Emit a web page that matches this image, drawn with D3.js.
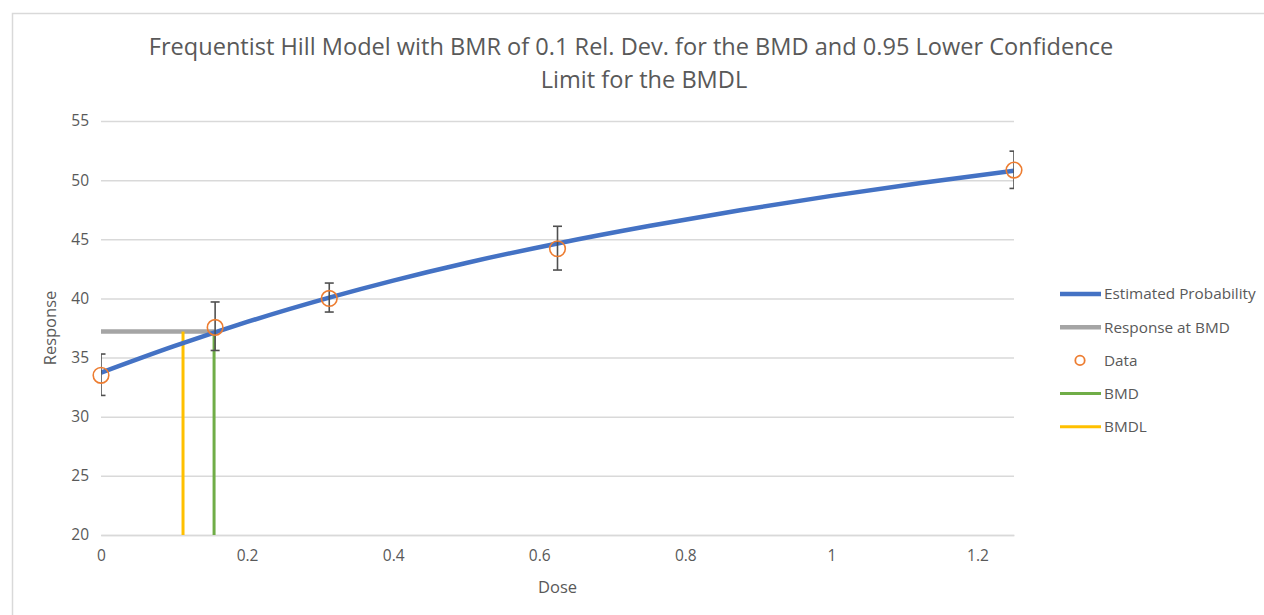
<!DOCTYPE html>
<html>
<head>
<meta charset="utf-8">
<script src="https://cdn.jsdelivr.net/npm/d3@7"></script>
<style>
  html, body { margin: 0; padding: 0; background: #fff; }
  svg { display: block; font-family: "Open Sans", "Noto Sans", sans-serif; }
</style>
</head>
<body>
<svg id="chart" width="1264" height="615"></svg>
<script>
// Observed dose groups: mean response and error-bar limits
const doses = [0, 0.15625, 0.3125, 0.625, 1.25];
const means = [33.5, 37.55, 40.0, 44.2, 50.85];
const errLow = [31.8, 35.6, 38.85, 42.4, 49.3];
const errHigh = [35.3, 39.7, 41.3, 46.1, 52.45];

// Fitted Hill curve, sampled along the dose range
const curveDose = [0, 0.1, 0.156, 0.2, 0.3125, 0.4, 0.5, 0.625, 0.75, 0.875, 1.0, 1.125, 1.25];
const curveResp = [33.72, 35.96, 37.13, 38.01, 40.07, 41.51, 43.0, 44.65, 46.12, 47.46, 48.67, 49.78, 50.8];

// Benchmark dose results
const bmd = 0.1548;
const bmdl = 0.1123;
const bmdResponse = 37.2;

const xTicks = [0, 0.2, 0.4, 0.6, 0.8, 1, 1.2];
const yTicks = [20, 25, 30, 35, 40, 45, 50, 55];

const titleLines = [
  "Frequentist Hill Model with BMR of 0.1 Rel. Dev. for the BMD and 0.95 Lower Confidence",
  "Limit for the BMDL"
];
const legendLabels = ["Estimated Probability", "Response at BMD", "Data", "BMD", "BMDL"];

const colors = {
  curve: "#4472C4",
  bmdLine: "#A5A5A5",
  data: "#ED7D31",
  bmd: "#70AD47",
  bmdl: "#FFC000",
  grid: "#D9D9D9",
  text: "#595959",
  err: "#505050"
};

const svg = d3.select("#chart");
const plot = { left: 101, right: 1014, top: 121, bottom: 535 };

const x = d3.scaleLinear().domain([0, 1.25]).range([plot.left, plot.right]);
const y = d3.scaleLinear().domain([20, 55]).range([plot.bottom, plot.top]);

// Outer chart border
svg.append("rect")
  .attr("x", 12.5).attr("y", 13.5)
  .attr("width", 1400).attr("height", 800)
  .attr("fill", "#fff").attr("stroke", colors.grid).attr("stroke-width", 1.5);

// Clip for marks that stay inside the plotting area
svg.append("clipPath").attr("id", "plotClip")
  .append("rect")
  .attr("x", plot.left).attr("y", plot.top - 2)
  .attr("width", plot.right - plot.left).attr("height", plot.bottom - plot.top + 2);

// Title
const title = svg.append("text")
  .attr("text-anchor", "middle")
  .attr("fill", colors.text)
  .style("font-size", "20px");
const titleX = [631, 644];
titleLines.forEach((t, i) => {
  title.append("tspan").attr("x", titleX[i]).attr("y", 55 + i * 33).text(t);
});
// size the title so the first line spans its intended width
const firstW = title.select("tspan").node().getComputedTextLength();
title.style("font-size", (20 * 965 / firstW) + "px");

// Horizontal gridlines and y tick labels
const yAxis = d3.axisLeft(y).tickValues(yTicks).tickSize(-(plot.right - plot.left)).tickPadding(12);
const gy = svg.append("g").attr("transform", `translate(${plot.left},0)`).call(yAxis);
gy.attr("font-family", null).attr("font-size", null);
gy.select(".domain").remove();
gy.selectAll(".tick line").attr("stroke", colors.grid).attr("stroke-width", 1.5);
gy.selectAll(".tick text").attr("fill", colors.text).style("font-size", "15.5px");

// X axis with labels
const xAxis = d3.axisBottom(x).tickValues(xTicks).tickSize(0).tickPadding(15).tickFormat(d3.format("~g"));
const gx = svg.append("g").attr("transform", `translate(0,${plot.bottom})`).call(xAxis);
gx.attr("font-family", null).attr("font-size", null);
gx.select(".domain").attr("stroke", colors.grid).attr("stroke-width", 1.5);
gx.selectAll(".tick text").attr("fill", colors.text).style("font-size", "15.5px");

// Axis titles
svg.append("text")
  .attr("x", (plot.left + plot.right) / 2).attr("y", 593)
  .attr("text-anchor", "middle").attr("fill", colors.text).style("font-size", "16.5px")
  .text("Dose");
svg.append("text")
  .attr("transform", `translate(56,${(plot.top + plot.bottom) / 2}) rotate(-90)`)
  .attr("text-anchor", "middle").attr("fill", colors.text).style("font-size", "16.5px")
  .text("Response");

const marks = svg.append("g");

// Response at BMD
marks.append("line")
  .attr("x1", x(0)).attr("x2", x(bmd) + 1.5)
  .attr("y1", y(bmdResponse)).attr("y2", y(bmdResponse))
  .attr("stroke", colors.bmdLine).attr("stroke-width", 4.5);

// BMDL and BMD verticals
marks.append("line")
  .attr("x1", x(bmdl)).attr("x2", x(bmdl))
  .attr("y1", y(20)).attr("y2", y(bmdResponse))
  .attr("stroke", colors.bmdl).attr("stroke-width", 3);
marks.append("line")
  .attr("x1", x(bmd)).attr("x2", x(bmd))
  .attr("y1", y(20)).attr("y2", y(bmdResponse))
  .attr("stroke", colors.bmd).attr("stroke-width", 3);

// Fitted curve
const curvePts = curveDose.map((d, i) => [d, curveResp[i]]);
marks.append("path")
  .datum(curvePts)
  .attr("clip-path", "url(#plotClip)")
  .attr("fill", "none")
  .attr("stroke", colors.curve)
  .attr("stroke-width", 4.5)
  .attr("d", d3.line().x(d => x(d[0])).y(d => y(d[1])).curve(d3.curveMonotoneX));

// Error bars
const errG = marks.append("g").attr("clip-path", "url(#plotClip)")
  .attr("stroke", colors.err).attr("stroke-width", 1.6).attr("fill", "none");
doses.forEach((d, i) => {
  const cx = x(d);
  errG.append("line").attr("x1", cx).attr("x2", cx).attr("y1", y(errLow[i])).attr("y2", y(errHigh[i]));
  errG.append("line").attr("x1", cx - 4.5).attr("x2", cx + 4.5).attr("y1", y(errLow[i])).attr("y2", y(errLow[i]));
  errG.append("line").attr("x1", cx - 4.5).attr("x2", cx + 4.5).attr("y1", y(errHigh[i])).attr("y2", y(errHigh[i]));
});

// Observed means
marks.selectAll("circle.data")
  .data(doses)
  .join("circle")
  .attr("class", "data")
  .attr("cx", d => x(d))
  .attr("cy", (d, i) => y(means[i]))
  .attr("r", 7.8)
  .attr("fill", "none")
  .attr("stroke", colors.data)
  .attr("stroke-width", 1.6);

// Legend
const legendColors = [colors.curve, colors.bmdLine, colors.data, colors.bmd, colors.bmdl];
const legendWidths = [4.5, 4.5, 0, 3, 3];
const legend = svg.append("g");
legendLabels.forEach((lab, i) => {
  const ly = 294 + i * 33.2;
  if (lab === "Data") {
    legend.append("circle").attr("cx", 1080).attr("cy", ly).attr("r", 4.7)
      .attr("fill", "none").attr("stroke", legendColors[i]).attr("stroke-width", 1.8);
  } else {
    legend.append("line").attr("x1", 1060).attr("x2", 1101).attr("y1", ly).attr("y2", ly)
      .attr("stroke", legendColors[i]).attr("stroke-width", legendWidths[i]);
  }
  legend.append("text").attr("x", 1104).attr("y", ly).attr("dy", "0.35em")
    .attr("fill", colors.text).style("font-size", "15.3px").text(lab);
});
</script>
</body>
</html>
